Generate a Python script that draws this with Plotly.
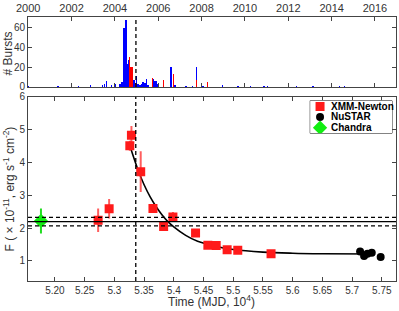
import plotly.graph_objects as go

# ---------------- data ----------------
# XMM-Newton (time in 10^4 MJD, flux in 1e-11 erg/s/cm2)
xmm_t = [5.2727, 5.2912, 5.3260, 5.3287, 5.3443, 5.3649, 5.3829, 5.3985, 5.4366,
         5.4573, 5.4713, 5.4897, 5.5076, 5.5636]
xmm_f = [2.24, 2.59, 4.51, 4.83, 3.72, 2.60, 2.05, 2.34, 1.85, 1.48, 1.47, 1.34, 1.33, 1.22]
xmm_e = [0.36, 0.30, 0.15, 0.28, 0.62, 0.12, 0.10, 0.15, 0.10, 0.08, 0.08, 0.06, 0.06, 0.06]

# NuSTAR
nu_t = [5.7134, 5.7201, 5.7257, 5.7330, 5.7480]
nu_f = [1.29, 1.15, 1.22, 1.25, 1.12]

# Chandra
ch_t = [5.1765]
ch_f = [2.22]
ch_e = [0.38]

# decay curve
fit_t = [5.328, 5.34, 5.35, 5.36, 5.37, 5.38, 5.39, 5.40, 5.42, 5.44, 5.47, 5.50,
         5.55, 5.60, 5.65, 5.735]
fit_f = [4.40, 3.76, 3.32, 2.96, 2.66, 2.41, 2.20, 2.04, 1.78, 1.60, 1.45, 1.35,
         1.27, 1.235, 1.22, 1.21]

quiescent_flux = 2.2
quiescent_err = 0.13
outburst_t = 5.336          # 10^4 MJD
outburst_year = 2004.97

# burst histogram (year, counts)
blue_year = [2000.00, 2001.38, 2002.00, 2002.31, 2002.87, 2003.43, 2003.53, 2003.61,
             2003.84, 2004.00, 2004.23, 2004.32, 2004.41, 2004.47, 2004.52, 2004.58,
             2004.63, 2004.72, 2004.82, 2004.89, 2004.99, 2005.07, 2005.15, 2005.22,
             2005.30, 2005.38, 2005.45, 2005.53, 2005.79, 2005.85, 2005.92, 2005.98,
             2006.58, 2006.78, 2007.27, 2007.57, 2007.76, 2008.07, 2008.96, 2009.68,
             2010.26, 2010.88, 2011.03, 2012.37, 2013.13, 2014.36, 2014.59]
blue_cnt = [1, 1, 1, 1, 2, 2, 3, 6,
            2, 3, 3, 5, 59, 45, 67, 23,
            27, 15, 8, 7, 11, 3, 2, 3,
            5, 4, 8, 2, 8, 6, 6, 3,
            20, 2, 1, 1, 20, 1, 2, 1,
            1, 1, 1, 1, 1, 1, 1]
red_year = [2004.67, 2004.72, 2004.78, 2004.95, 2005.73, 2006.25, 2006.71, 2007.76, 2008.28]
red_cnt = [30, 20, 20, 4, 9, 7, 13, 7, 5]

year_ticks = [2000, 2002, 2004, 2006, 2008, 2010, 2012, 2014, 2016]
t_ticks = [5.20, 5.25, 5.30, 5.35, 5.40, 5.45, 5.50, 5.55, 5.60, 5.65, 5.70, 5.75]
t_labels = ["5.20", "5.25", "5.3", "5.35", "5.4", "5.45", "5.5", "5.55", "5.6", "5.65", "5.7", "5.75"]

legend_names = ["XMM-Newton", "NuSTAR", "Chandra"]

# ---------------- figure ----------------
W, H = 399, 311
ml, mr, mt, mb = 28, 2, 13, 30
ph = H - mt - mb
pw = W - ml - mr

def ypaper(py):
    return 1 - (py - mt) / ph

def xpaper(px):
    return (px - ml) / pw

top_dom = [ypaper(84), 1.0]
bot_dom = [0.0, ypaper(94)]

FONT = "Liberation Sans, Arial, sans-serif"
AX = "#444444"
TXT = "#333333"

fig = go.Figure()

# top panel bars
fig.add_trace(go.Bar(x=blue_year, y=blue_cnt, width=0.07, marker=dict(color="#0000ff", line=dict(width=0)),
                     xaxis="x2", yaxis="y2", showlegend=False))
fig.add_trace(go.Bar(x=red_year, y=red_cnt, width=0.07, marker=dict(color="#ff0000", line=dict(width=0)),
                     xaxis="x2", yaxis="y2", showlegend=False))

# bottom panel
fig.add_trace(go.Scatter(x=fit_t, y=fit_f, mode="lines", line=dict(color="black", width=1.6, shape="spline"),
                         showlegend=False))
fig.add_trace(go.Scatter(x=xmm_t, y=xmm_f, mode="markers",
                         marker=dict(symbol="square", size=9, color="#ff1a1a"),
                         error_y=dict(type="data", array=xmm_e, color="rgba(255,40,40,0.75)", thickness=2, width=0),
                         showlegend=False))
fig.add_trace(go.Scatter(x=nu_t, y=nu_f, mode="markers",
                         marker=dict(symbol="circle", size=8, color="black"), showlegend=False))
fig.add_trace(go.Scatter(x=ch_t, y=ch_f, mode="markers",
                         marker=dict(symbol="diamond", size=11, color="#11ee11"),
                         error_y=dict(type="data", array=ch_e, color="#22dd22", thickness=2, width=0),
                         showlegend=False))

# manual legend on overlay axes
leg_x0, leg_x1 = xpaper(311), xpaper(393)
leg_y0, leg_y1 = ypaper(131), ypaper(98)
leg_marker_y = [0.82, 0.50, 0.17]
fig.add_trace(go.Scatter(x=[0.12], y=[leg_marker_y[0]], mode="markers",
                         marker=dict(symbol="square", size=9, color="#ff1a1a"),
                         xaxis="x3", yaxis="y3", showlegend=False))
fig.add_trace(go.Scatter(x=[0.12], y=[leg_marker_y[1]], mode="markers",
                         marker=dict(symbol="circle", size=8, color="black"),
                         xaxis="x3", yaxis="y3", showlegend=False))
fig.add_trace(go.Scatter(x=[0.12], y=[leg_marker_y[2]], mode="markers",
                         marker=dict(symbol="diamond", size=11, color="#11ee11"),
                         xaxis="x3", yaxis="y3", showlegend=False))

annotations = []
for name, yy in zip(legend_names, leg_marker_y):
    annotations.append(dict(x=0.23, y=yy, xref="x3", yref="y3", text="<b>%s</b>" % name,
                            showarrow=False, xanchor="left", yanchor="middle",
                            font=dict(family=FONT, size=10, color="black")))

# axis titles
annotations.append(dict(x=xpaper(212), y=ypaper(301), xref="paper", yref="paper",
                        text="Time (MJD, 10<sup>4</sup>)", showarrow=False,
                        font=dict(family=FONT, size=12, color=TXT), xanchor="center", yanchor="middle"))
annotations.append(dict(x=xpaper(9), y=ypaper(188), xref="paper", yref="paper",
                        text="F ( \u00d7 10<sup>-11</sup>, erg s<sup>-1</sup> cm<sup>-2</sup>)", showarrow=False,
                        textangle=-90, font=dict(family=FONT, size=12, color=TXT),
                        xanchor="center", yanchor="middle"))
annotations.append(dict(x=xpaper(8), y=ypaper(50), xref="paper", yref="paper",
                        text="# Bursts", showarrow=False, textangle=-90,
                        font=dict(family=FONT, size=12, color=TXT), xanchor="center", yanchor="middle"))

dash = "4px,3px"
shapes = [
    dict(type="line", xref="x", yref="y domain", x0=outburst_t, x1=outburst_t, y0=0, y1=1,
         line=dict(color="black", width=1.3, dash=dash)),
    dict(type="line", xref="x2", yref="y2 domain", x0=outburst_year, x1=outburst_year, y0=0, y1=1,
         line=dict(color="black", width=1.3, dash=dash)),
    dict(type="line", xref="x domain", yref="y", x0=0, x1=1, y0=quiescent_flux, y1=quiescent_flux,
         line=dict(color="black", width=1.3)),
    dict(type="line", xref="x domain", yref="y", x0=0, x1=1,
         y0=quiescent_flux + quiescent_err, y1=quiescent_flux + quiescent_err,
         line=dict(color="black", width=1.3, dash=dash)),
    dict(type="line", xref="x domain", yref="y", x0=0, x1=1,
         y0=quiescent_flux - quiescent_err, y1=quiescent_flux - quiescent_err,
         line=dict(color="black", width=1.3, dash=dash)),
    dict(type="rect", xref="paper", yref="paper", x0=leg_x0, x1=leg_x1, y0=leg_y0, y1=leg_y1,
         line=dict(color="#222222", width=1), fillcolor="white", layer="below"),
]

axcommon = dict(showline=True, linecolor=AX, linewidth=1, mirror="ticks", ticks="inside",
                ticklen=4, tickcolor=AX, showgrid=False, zeroline=False,
                tickfont=dict(family=FONT, size=10, color=TXT))

fig.update_layout(
    width=W, height=H, margin=dict(l=ml, r=mr, t=mt, b=mb),
    paper_bgcolor="white", plot_bgcolor="white", barmode="overlay", bargap=0,
    xaxis=dict(range=[5.1547, 5.7738], domain=[0, 1], tickvals=t_ticks, ticktext=t_labels,
               anchor="y", **axcommon),
    yaxis=dict(range=[0.39, 6.0], domain=bot_dom, tickvals=[1, 2, 3, 4, 5, 6], anchor="x",
               **axcommon),
    xaxis2=dict(range=[1999.99, 2016.97], domain=[0, 1], tickvals=year_ticks, side="top",
                anchor="y2", **{**axcommon, "tickfont": dict(family=FONT, size=11, color=TXT)}),
    yaxis2=dict(range=[0, 70.5], domain=top_dom, tickvals=[0, 20, 40, 60], anchor="x2",
                **axcommon),
    xaxis3=dict(range=[0, 1], domain=[leg_x0, leg_x1], anchor="y3", visible=False, fixedrange=True),
    yaxis3=dict(range=[0, 1], domain=[leg_y0, leg_y1], anchor="x3", visible=False, fixedrange=True),
    shapes=shapes, annotations=annotations, showlegend=False, hovermode=False,
)

fig.write_html("out.html", config={"displayModeBar": False, "staticPlot": True},
               post_script="document.body.style.margin='0px';document.body.style.overflow='hidden';")
